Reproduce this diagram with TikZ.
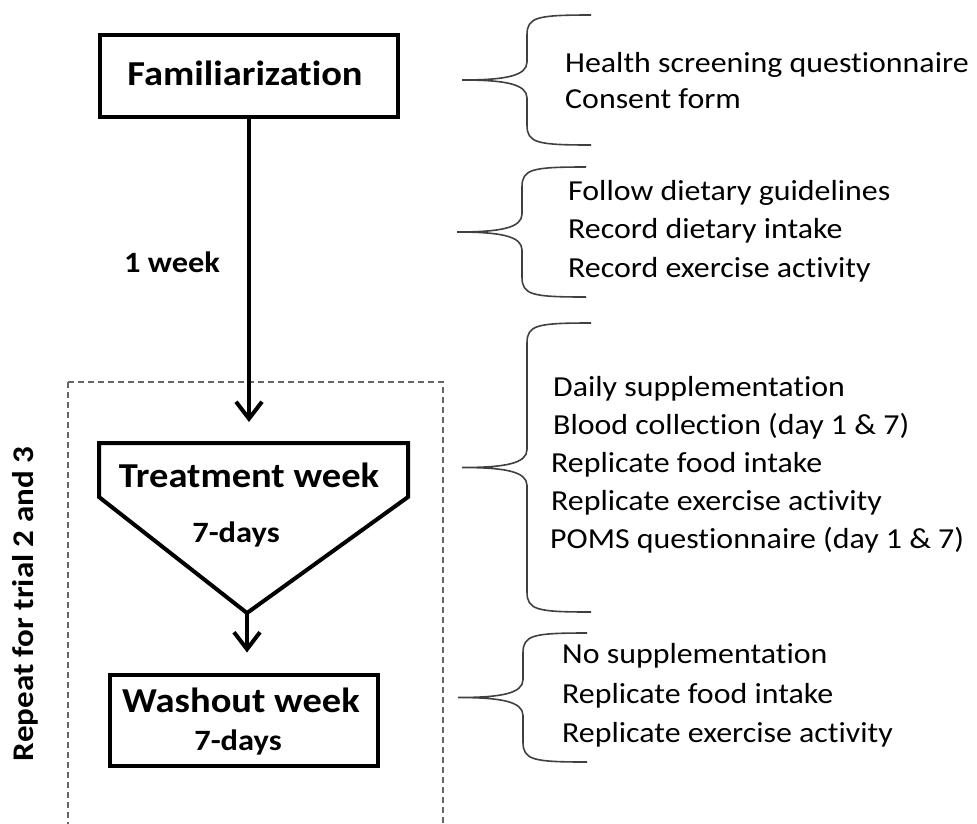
\documentclass[tikz,border=0pt]{standalone}
\usepackage{fontspec}
\setmainfont{Carlito}[FakeStretch=1.1, RawFeature={-liga;-clig;-dlig}]
\usetikzlibrary{arrows.meta}

\tikzset{
  box/.style={draw, line width=4pt, rectangle, inner sep=0pt},
  flow/.style={line width=4pt, -{Straight Barb[length=17pt,width=26pt]}},
  brace/.style={draw=black!75, line width=1.6pt},
  dashbox/.style={draw=black!60, line width=1.5pt, dash pattern=on 6pt off 4pt},
  title/.style={anchor=base, inner sep=0pt, font=\bfseries\fontsize{35}{42}\selectfont},
  daylabel/.style={anchor=base, inner sep=0pt, font=\bfseries\fontsize{29.5}{35}\selectfont},
  listitem/.style={anchor=base west, inner sep=0pt, font=\fontsize{29}{35}\selectfont}
}

\begin{document}
\begin{tikzpicture}[x=1pt,y=-1pt]
\useasboundingbox (0,0) rectangle (977,823);

% Dashed frame round the repeated weeks
\draw[dashbox] (68,382) rectangle (443,830);
\node[rotate=90, inner sep=0pt, font=\bfseries\fontsize{30}{36}\selectfont] (repeat) at (25,604) {Repeat for trial 2 and 3};

% Familiarization
\node[box, minimum width=298pt, minimum height=82pt] (famil) at (249,76) {};
\node[title] (familname) at (245,85) {Familiarization};
\node[daylabel] (week) at (172,272) {1 week};

% Treatment week (pentagon)
\coordinate (treattop) at (249,443);
\coordinate (treattip) at (247,613);
\draw[line width=4pt] (99,443) -- (408,443) -- (408,497) -- (treattip) -- (99,497) -- cycle;
\node[title] (treat) at (249,487) {Treatment week};
\node[daylabel] (treatdays) at (236,542) {7-days};

% Washout week
\node[box, minimum width=268pt, minimum height=91pt] (wash) at (244,720) {};
\node[title] (washname) at (241,712) {Washout week};
\node[daylabel] (washdays) at (238,750) {7-days};

% Arrows
\draw[flow, shorten >=21pt] (famil.south) -- (treattop);
\draw[flow, shorten >=20pt] (treattip) -- (treattip |- wash.north);

% Braces
\foreach \ya/\yb/\sx in {15/145/527, 167/297/522, 323/612/527, 633/762/523} {
  \pgfmathsetmacro\ym{(\ya+\yb)/2}
  \draw[brace] (\sx+64,\ya) .. controls (\sx+10,\ya) and (\sx,\ya+2) .. (\sx,\ya+20)
    -- (\sx,\ym-18) .. controls (\sx,\ym-4) and (\sx-22,\ym) .. (\sx-65,\ym)
    .. controls (\sx-22,\ym) and (\sx,\ym+4) .. (\sx,\ym+18)
    -- (\sx,\yb-20) .. controls (\sx,\yb-2) and (\sx+10,\yb) .. (\sx+64,\yb);
}

% Lists next to the braces
\foreach \x/\y/\txt [count=\i] in {565/72/Health screening questionnaire, 565/108/Consent form} {
  \node[listitem] (screen\i) at (\x,\y) {\txt};
}
\foreach \x/\y/\txt [count=\i] in {568/200/Follow dietary guidelines, 568/238/Record dietary intake, 568/277/Record exercise activity} {
  \node[listitem] (diet\i) at (\x,\y) {\txt};
}
\foreach \x/\y/\txt [count=\i] in {553/396/Daily supplementation, 553/434/{Blood collection (day 1 \& 7)}, 551/472/Replicate food intake, 551/510/Replicate exercise activity, 550/548/{POMS questionnaire (day 1 \& 7)}} {
  \node[listitem] (trial\i) at (\x,\y) {\txt};
}
\foreach \x/\y/\txt [count=\i] in {562/663/No supplementation, 562/703/Replicate food intake, 562/742/Replicate exercise activity} {
  \node[listitem] (rest\i) at (\x,\y) {\txt};
}

\end{tikzpicture}
\end{document}
